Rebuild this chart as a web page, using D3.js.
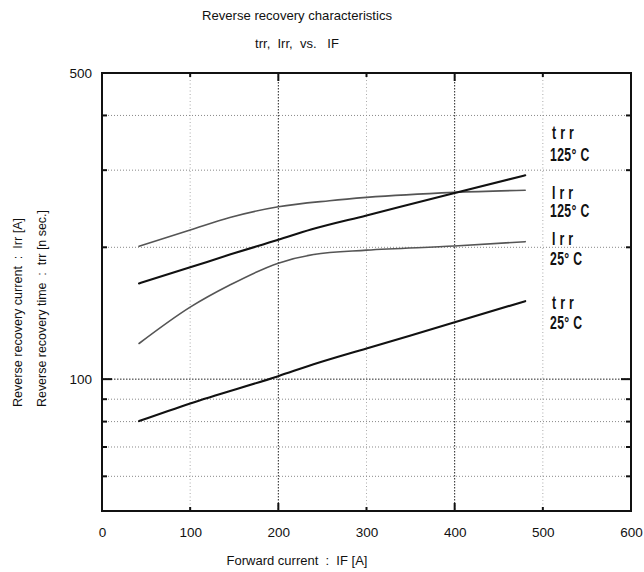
<!DOCTYPE html>
<html><head><meta charset="utf-8">
<script src="https://cdn.jsdelivr.net/npm/d3@7"></script>
<style>
body{margin:0;background:#fff;}
svg{display:block;}
text{font-family:"Liberation Sans",Arial,sans-serif;fill:#111;}
.lbl{font-family:"Liberation Sans",Arial,sans-serif;font-weight:bold;font-size:18px;}
</style></head>
<body>
<svg id="c" width="644" height="572"></svg>
<script>
// ---- data ----
const xTicks = [0, 100, 200, 300, 400, 500, 600];
const yTickLabels = [100, 500];
const yGrid = [60, 70, 80, 90, 100, 200, 300, 400];
const xGrid = [100, 200, 300, 400, 500];

const irr125IF = [42, 100, 145, 200, 258, 300, 400, 480];
const irr125   = [201, 219, 234, 247.5, 255.5, 260, 267, 270];
const trr125IF = [42, 100, 145, 200, 237, 300, 400, 480];
const trr125   = [165.4, 180, 192.5, 208, 219.5, 236.4, 266, 292];
const irr25IF  = [42, 100, 145, 200, 240, 300, 400, 480];
const irr25    = [120.6, 146, 164, 184, 192.5, 197, 201.3, 206];
const trr25IF  = [42, 100, 200, 240, 300, 400, 480];
const trr25    = [80.2, 88.0, 101.6, 108.1, 117.5, 134.8, 150.7];

const labelTop = ["trr", "Irr", "Irr", "trr"];
const labelBottom = ["125° C", "125° C", "25° C", "25° C"];

// ---- layout ----
const svg = d3.select("#c");
const L = 102, R = 631, T = 73, B = 511;
const x = d3.scaleLinear().domain([0, 600]).range([L, R]);
const y = d3.scaleLog().domain([50, 500]).range([B, T]);

// grid
const major = v => v === 200 || v === 400;
svg.append("g").selectAll("line").data(xGrid).join("line")
  .attr("x1", d => x(d)).attr("x2", d => x(d)).attr("y1", T).attr("y2", B)
  .attr("stroke", d => major(d) ? "#222" : "#aaa")
  .attr("stroke-width", 1)
  .attr("stroke-dasharray", d => major(d) ? "1.5,1.5" : "1,2.5");
svg.append("g").selectAll("line").data(yGrid).join("line")
  .attr("x1", L).attr("x2", R).attr("y1", d => y(d)).attr("y2", d => y(d))
  .attr("stroke", d => d === 100 ? "#222" : "#888")
  .attr("stroke-width", 1)
  .attr("stroke-dasharray", d => d === 100 ? "1.5,1.5" : "1,2");

// axes
const xAxB = d3.axisBottom(x).tickValues(xTicks).tickSize(0).tickPadding(16).tickFormat(d3.format("d"));
svg.append("g").attr("transform", `translate(0,${B})`).call(xAxB)
  .call(g => g.select(".domain").remove())
  .call(g => g.selectAll("text").attr("font-size", 13.5).attr("font-family", "Liberation Sans, Arial, sans-serif").attr("fill", "#111"));
const yAx = d3.axisLeft(y).tickValues(yTickLabels).tickSize(0).tickPadding(10).tickFormat(d3.format("d"));
svg.append("g").attr("transform", `translate(${L},0)`).call(yAx)
  .call(g => g.select(".domain").remove())
  .call(g => g.selectAll("text").attr("font-size", 13.5).attr("font-family", "Liberation Sans, Arial, sans-serif").attr("fill", "#111"));

// tick marks (inward)
const inner = [100, 200, 300, 400, 500];
const tl = d => major(d) ? 8 : 4;
const tk = svg.append("g").attr("stroke", "#111").attr("stroke-width", 2);
inner.forEach(d => {
  tk.append("line").attr("x1", x(d)).attr("x2", x(d)).attr("y1", B).attr("y2", B - tl(d));
  tk.append("line").attr("x1", x(d)).attr("x2", x(d)).attr("y1", T).attr("y2", T + tl(d));
});
yGrid.forEach(d => {
  const l = d === 100 ? 10 : 5;
  tk.append("line").attr("x1", L).attr("x2", L + l).attr("y1", y(d)).attr("y2", y(d));
  tk.append("line").attr("x1", R).attr("x2", R - l).attr("y1", y(d)).attr("y2", y(d));
});

// frame
svg.append("rect").attr("x", L).attr("y", T).attr("width", R - L).attr("height", B - T)
  .attr("fill", "none").attr("stroke", "#111").attr("stroke-width", 2);

// curves
const series = [
  {xs: irr125IF, ys: irr125, color: "#555", w: 1.6},
  {xs: trr125IF, ys: trr125, color: "#111", w: 2.1},
  {xs: irr25IF,  ys: irr25,  color: "#555", w: 1.6},
  {xs: trr25IF,  ys: trr25,  color: "#111", w: 2.1}
];
const line = d3.line().x(d => x(d[0])).y(d => y(d[1])).curve(d3.curveMonotoneX);
svg.append("g").selectAll("path").data(series).join("path")
  .attr("d", s => line(s.xs.map((v, i) => [v, s.ys[i]])))
  .attr("fill", "none").attr("stroke", s => s.color).attr("stroke-width", s => s.w)
  .attr("stroke-linecap", "round");

// curve labels (condensed bold)
const lx = 551;
const labelPix = [[139, 161], [199, 217], [245, 265], [309, 329]];
const lg = svg.append("g");
labelPix.forEach((p, i) => {
  lg.append("text").attr("class", "lbl").attr("transform", `translate(${lx + 1},${p[0]}) scale(0.68,1)`)
    .attr("letter-spacing", 6).text(labelTop[i]);
  lg.append("text").attr("class", "lbl").attr("transform", `translate(${lx - 1},${p[1]}) scale(0.68,1)`)
    .attr("letter-spacing", 0.5).attr("xml:space", "preserve").text(labelBottom[i]);
});

// titles
svg.append("text").attr("x", 297).attr("y", 20).attr("text-anchor", "middle").attr("font-size", 13)
  .attr("textLength", 190).attr("lengthAdjust", "spacingAndGlyphs")
  .text("Reverse recovery characteristics");
svg.append("text").attr("x", 297).attr("y", 48).attr("text-anchor", "middle").attr("font-size", 13)
  .attr("xml:space", "preserve").text("trr,  Irr,  vs.   IF");
svg.append("text").attr("x", 297).attr("y", 565).attr("text-anchor", "middle").attr("font-size", 13)
  .attr("xml:space", "preserve").text("Forward current  :  IF [A]");
svg.append("text").attr("transform", "translate(22,407) rotate(-90)").attr("font-size", 13)
  .attr("textLength", 189).attr("lengthAdjust", "spacingAndGlyphs")
  .attr("xml:space", "preserve").text("Reverse recovery current  :  Irr [A]");
svg.append("text").attr("transform", "translate(46,407) rotate(-90)").attr("font-size", 13)
  .attr("textLength", 197).attr("lengthAdjust", "spacingAndGlyphs")
  .attr("xml:space", "preserve").text("Reverse recovery time  :  trr [n sec.]");
</script>
</body></html>
